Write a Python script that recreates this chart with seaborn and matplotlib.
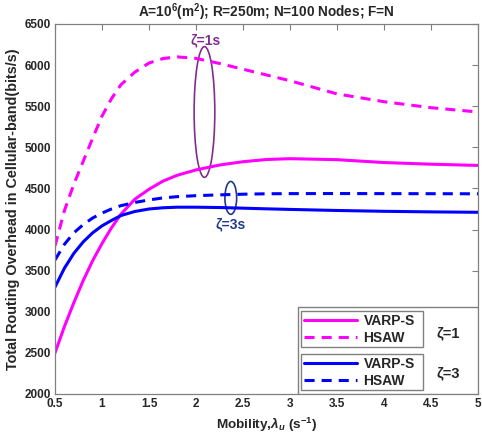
import numpy as np
import pandas as pd
import seaborn as sns
import matplotlib
matplotlib.use("Agg")
import matplotlib.pyplot as plt
from matplotlib.patches import Ellipse, Rectangle
from matplotlib.lines import Line2D

# ---- data ----
mobility = [0.5, 0.6, 0.7, 0.8, 0.9, 1.0, 1.1, 1.2, 1.35, 1.5, 1.65, 1.8, 2.0, 2.25, 2.5, 2.75, 3.0, 3.5, 4.0, 4.5, 5.0]
varps_z1 = [2500, 2820, 3110, 3380, 3620, 3830, 4020, 4185, 4370, 4490, 4590, 4660, 4725, 4785, 4825, 4852, 4862, 4850, 4815, 4795, 4780]
hsaw_z1 = [3800, 4230, 4550, 4830, 5110, 5380, 5590, 5760, 5915, 6025, 6080, 6100, 6082, 6020, 5950, 5880, 5810, 5650, 5555, 5482, 5430]
varps_z3 = [3300, 3530, 3710, 3850, 3960, 4045, 4110, 4170, 4220, 4250, 4265, 4272, 4272, 4268, 4260, 4252, 4245, 4232, 4222, 4215, 4210]
hsaw_z3 = [3630, 3820, 3960, 4060, 4140, 4200, 4250, 4290, 4330, 4360, 4385, 4400, 4412, 4422, 4430, 4435, 4437, 4438, 4437, 4436, 4435]
xticks = [0.5, 1, 1.5, 2, 2.5, 3, 3.5, 4, 4.5, 5]
yticks = [2000, 2500, 3000, 3500, 4000, 4500, 5000, 5500, 6000, 6500]

sns.set_style("white")
plt.rcParams["font.family"] = ["Liberation Sans", "DejaVu Sans"]
plt.rcParams["font.weight"] = "bold"
plt.rcParams["mathtext.fontset"] = "custom"
plt.rcParams["mathtext.rm"] = "Liberation Sans:bold"
plt.rcParams["mathtext.bf"] = "Liberation Sans:bold"
plt.rcParams["mathtext.it"] = "Liberation Sans:italic"

fig = plt.figure(figsize=(4.82, 4.43), dpi=100)
ax = fig.add_axes([55/482, 49/443, 423/482, 370/443])

df = pd.DataFrame({"x": mobility, "v1": varps_z1, "h1": hsaw_z1, "v3": varps_z3, "h3": hsaw_z3})
MAG = "#FF00FF"
BLU = "#0000FF"
lw = 2.2
dash = (3.3, 2.3)
sns.lineplot(data=df, x="x", y="v1", ax=ax, color=MAG, lw=lw)
sns.lineplot(data=df, x="x", y="h1", ax=ax, color=MAG, lw=lw).lines[-1].set_dashes(dash)
sns.lineplot(data=df, x="x", y="v3", ax=ax, color=BLU, lw=lw)
sns.lineplot(data=df, x="x", y="h3", ax=ax, color=BLU, lw=lw).lines[-1].set_dashes(dash)

ax.set_xlim(0.5, 5)
ax.set_ylim(2000, 6500)
ax.set_xticks(xticks)
ax.set_xticklabels([f"{t:g}" for t in xticks])
ax.set_yticks(yticks)
ax.tick_params(direction="in", top=True, right=True, length=4, width=0.8,
               colors="#808080", labelcolor="#262626", labelsize=8.5, pad=3)
for s in ax.spines.values():
    s.set_color("#808080")
    s.set_linewidth(0.9)

ax.set_xlabel(r"Mobility,$\lambda_{u}$ (s$^{-1}$)", fontsize=9.7, fontweight="bold", color="#262626", labelpad=4)
ax.set_ylabel("Total Routing Overhead in Cellular-band(bits/s)", fontsize=10.4, fontweight="bold", color="#262626", labelpad=3)
ax.set_title(r"A=10$^{6}$(m$^{2}$); R=250m; N=100 Nodes; F=N", fontsize=9.8, fontweight="bold", color="#262626", pad=5)

# annotations
PURP = "#7E2F8E"
DBLU = "#1F3A8C"
ax.add_patch(Ellipse((2.09, 5430), 0.22, 1590, fill=False, ec=PURP, lw=1.2))
ax.text(2.1, 6300, "ζ=1s", color=PURP, fontsize=10, fontweight="bold", ha="center", va="center")
ax.add_patch(Ellipse((2.37, 4385), 0.125, 400, fill=False, ec=DBLU, lw=1.2))
ax.text(2.37, 4060, "ζ=3s", color=DBLU, fontsize=10, fontweight="bold", ha="center", va="center")

# legend area
ax.add_patch(Rectangle((0.5745, 0.0), 1 - 0.5745, 0.235, transform=ax.transAxes,
                       fill=True, fc="white", ec="#808080", lw=1.0, zorder=5))
h1 = [Line2D([], [], color=MAG, lw=lw), Line2D([], [], color=MAG, lw=lw, dashes=dash)]
h3 = [Line2D([], [], color=BLU, lw=lw), Line2D([], [], color=BLU, lw=lw, dashes=dash)]
labs = ["VARP-S", "HSAW"]
common = dict(loc="upper left", mode="expand", borderaxespad=0, fancybox=False, edgecolor="#808080",
              framealpha=1, prop={"weight": "bold", "size": 10}, handlelength=3.8,
              handletextpad=0.5, labelspacing=0.2, borderpad=0.2)
leg1 = ax.legend(h1, labs, bbox_to_anchor=(0.5816, 0.114, 0.2874, 0.110), **common)
leg1.get_frame().set_linewidth(1.0)
leg1.set_zorder(6)
ax.add_artist(leg1)
leg3 = ax.legend(h3, labs, bbox_to_anchor=(0.5816, 0.008, 0.2874, 0.100), **common)
leg3.get_frame().set_linewidth(1.0)
leg3.set_zorder(6)
ax.text(0.93, 0.165, "ζ=1", transform=ax.transAxes, fontsize=10.5, fontweight="bold",
        ha="center", va="center", zorder=7)
ax.text(0.93, 0.057, "ζ=3", transform=ax.transAxes, fontsize=10.5, fontweight="bold",
        ha="center", va="center", zorder=7)

fig.savefig("out.png", dpi=100)
